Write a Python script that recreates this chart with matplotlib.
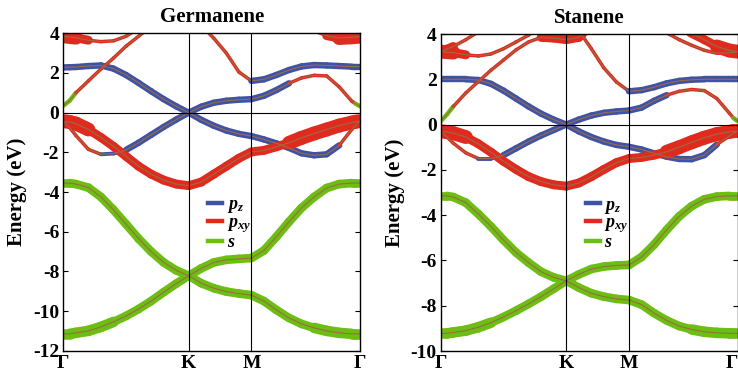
import numpy as np
import matplotlib
matplotlib.use("Agg")
import matplotlib.pyplot as plt
from matplotlib.collections import LineCollection
from matplotlib.lines import Line2D

plt.rcParams["font.family"] = "Liberation Serif"
plt.rcParams["font.weight"] = "bold"
plt.rcParams["axes.unicode_minus"] = False
plt.rcParams["mathtext.fontset"] = "custom"
plt.rcParams["mathtext.it"] = "Liberation Serif:italic:bold"
plt.rcParams["mathtext.rm"] = "Liberation Serif:bold"

nan = np.nan

# k-path Gamma -> K -> M -> Gamma, in units of |Gamma-K|
K_PATH = [0.0, 0.05, 0.1, 0.2, 0.3, 0.4, 0.5, 0.6, 0.7, 0.8, 0.9, 1.0,
          1.1, 1.2, 1.3, 1.4, 1.5,
          1.6, 1.7, 1.8, 1.9, 2.0, 2.1, 2.2, 2.3, 2.33, 2.366]
K_TICKS = [0.0, 1.0, 1.5, 2.366]
K_LABELS = ["Γ", "K", "M", "Γ"]

# dominant orbital per point: S/G/g = s, Z/z = pz, W/X/x = pxy (upper case = larger weight)
# ---- Germanene ----
GE_S1 = [-11.15, -11.15, -11.1, -11.0, -10.8, -10.55, -10.25, -9.9, -9.5, -9.05, -8.62, -8.22,
         -8.6, -8.85, -9.02, -9.12, -9.2,
         -9.5, -9.95, -10.35, -10.65, -10.85, -11.0, -11.1, -11.15, -11.15, -11.15]
GE_S1_ORB = "GGGGG" + "S" * 16 + "GGGGGG"
GE_S2 = [-3.55, -3.55, -3.6, -3.78, -4.25, -4.9, -5.62, -6.35, -7.0, -7.55, -7.95, -8.22,
         -7.85, -7.55, -7.42, -7.37, -7.33,
         -6.95, -6.25, -5.5, -4.8, -4.25, -3.8, -3.6, -3.55, -3.55, -3.55]
GE_S2_ORB = "S" * 27
GE_P3 = [-0.43, -0.47, -0.55, -0.85, -1.25, -1.7, -2.2, -2.7, -3.1, -3.4, -3.6, -3.68,
         -3.5, -3.1, -2.7, -2.3, -1.98,
         -1.9, -1.72, -1.52, -1.27, -1.05, -0.85, -0.65, -0.5, -0.46, -0.43]
GE_P3_ORB = "WWW" + "X" * 16 + "W" * 8
GE_B4 = [-0.43, -0.75, -1.15, -1.85, -2.1, -2.06, -1.88, -1.52, -1.12, -0.72, -0.35, 0.0,
         -0.36, -0.66, -0.9, -1.07, -1.18,
         -1.35, -1.55, -1.78, -2.05, -2.15, -2.1, -1.65, -0.85, -0.65, -0.43]
GE_B4_ORB = "xxxx" + "zz" + "Z" * 17 + "xxxx"
GE_B5 = [2.28, 2.29, 2.3, 2.35, 2.38, 2.22, 1.9, 1.5, 1.08, 0.68, 0.32, 0.0,
         0.3, 0.5, 0.6, 0.65, 0.68,
         0.85, 1.14, 1.48, 1.75, 1.88, 1.85, 1.3, 0.58, 0.45, 0.32]
GE_B5_ORB = "Z" * 19 + "x" * 6 + "gg"
GE_B6 = [0.35, 0.6, 1.0, 1.6, 2.2, 2.75, 3.35, 3.85, 4.35, nan, nan, nan,
         4.4, 3.75, 3.0, 2.05, 1.6,
         1.68, 1.9, 2.15, 2.33, 2.4, 2.38, 2.35, 2.32, 2.32, 2.32]
GE_B6_ORB = "gg" + "x" * 14 + "Z" * 11
GE_T1_K = [0.0, 0.1, 0.2, 0.3, 0.4, 0.5, 0.55]
GE_T1 = [3.85, 3.78, 3.65, 3.58, 3.62, 3.85, 4.05]
GE_T1_ORB = "WXxxxxx"
GE_T2_K = [2.03, 2.1, 2.2, 2.3, 2.366]
GE_T2 = [4.05, 3.88, 3.76, 3.8, 3.83]
GE_T2_ORB = "xXWWW"

# ---- Stanene ----
SN_S1 = [-9.22, -9.22, -9.18, -9.1, -8.95, -8.75, -8.5, -8.22, -7.92, -7.6, -7.25, -6.9,
         -7.2, -7.45, -7.6, -7.7, -7.75,
         -7.95, -8.33, -8.65, -8.9, -9.05, -9.15, -9.2, -9.22, -9.22, -9.22]
SN_S1_ORB = "GGGGG" + "S" * 16 + "GGGGGG"
SN_S2 = [-3.15, -3.15, -3.2, -3.45, -3.95, -4.5, -5.1, -5.65, -6.1, -6.5, -6.75, -6.9,
         -6.62, -6.38, -6.27, -6.22, -6.2,
         -5.85, -5.3, -4.65, -4.05, -3.6, -3.3, -3.18, -3.15, -3.15, -3.15]
SN_S2_ORB = "S" * 27
SN_P3 = [-0.3, -0.33, -0.38, -0.55, -0.85, -1.22, -1.62, -1.98, -2.3, -2.52, -2.66, -2.72,
         -2.58, -2.3, -1.98, -1.68, -1.5,
         -1.45, -1.35, -1.2, -1.0, -0.78, -0.58, -0.42, -0.32, -0.3, -0.3]
SN_P3_ORB = "WWW" + "X" * 16 + "W" * 8
SN_B4 = [-0.3, -0.55, -0.82, -1.25, -1.5, -1.5, -1.35, -1.05, -0.75, -0.48, -0.24, 0.0,
         -0.3, -0.55, -0.75, -0.9, -0.98,
         -1.1, -1.27, -1.42, -1.52, -1.53, -1.35, -0.88, -0.5, -0.38, -0.3]
SN_B4_ORB = "xxxx" + "zz" + "Z" * 17 + "xxxx"
SN_B5 = [2.0, 2.0, 2.0, 2.0, 1.97, 1.8, 1.5, 1.15, 0.8, 0.48, 0.22, 0.0,
         0.22, 0.4, 0.52, 0.58, 0.62,
         0.75, 1.05, 1.3, 1.47, 1.55, 1.5, 1.15, 0.5, 0.3, 0.15]
SN_B5_ORB = "Z" * 19 + "x" * 6 + "gg"
SN_B6 = [0.15, 0.45, 0.8, 1.4, 1.9, 2.4, 2.85, 3.3, 3.65, 3.85, 3.82, 3.75,
         3.85, 4.4, nan, nan, nan,
         nan, nan, nan, nan, nan, nan, nan, nan, nan, nan]
SN_B6_ORB = "gg" + "x" * 7 + "X" * 5 + "x" * 13
SN_B7 = [nan, nan, nan, nan, nan, nan, nan, nan, nan, nan, nan, nan,
         4.15, 3.35, 2.5, 1.88, 1.47,
         1.52, 1.65, 1.82, 1.93, 1.98, 2.0, 2.0, 2.0, 2.0, 2.0]
SN_B7_ORB = "x" * 16 + "Z" * 11
SN_T1_K = [0.0, 0.1, 0.2, 0.3, 0.4, 0.5, 0.6, 0.7, 0.72]
SN_T1 = [3.22, 3.18, 3.08, 3.03, 3.12, 3.35, 3.65, 3.95, 4.05]
SN_T1_ORB = "WXxxxxxxx"
SN_T2_K = [0.0, 0.1, 0.2, 0.3]
SN_T2 = [3.22, 3.45, 3.75, 4.1]
SN_T2_ORB = "Xxxx"
SN_T3_K = [1.8, 1.9, 2.0, 2.1, 2.2, 2.3, 2.366]
SN_T3 = [4.05, 3.75, 3.5, 3.28, 3.15, 3.17, 3.22]
SN_T3_ORB = "xxxxxxx"
SN_T4_K = [1.99, 2.1, 2.2, 2.3, 2.366]
SN_T4 = [4.05, 3.75, 3.45, 3.27, 3.22]
SN_T4_ORB = "XXWWW"

BLUE = "#3f52a6"
RED = "#e02a1d"
GREEN = "#6dbe12"
CENTER = "#9a6c44"

ORB_STYLE = {
    "S": (GREEN, 6.2), "G": (GREEN, 7.6), "g": (GREEN, 3.2),
    "Z": (BLUE, 4.6), "z": (BLUE, 2.8),
    "W": (RED, 10.0), "X": (RED, 6.4), "x": (RED, 2.5),
}


def draw_fat_band(ax, k, e, orb):
    k = np.asarray(k, float)
    e = np.asarray(e, float)
    segs, cols, lws = [], [], []
    for i in range(len(k) - 1):
        if np.isnan(e[i]) or np.isnan(e[i + 1]):
            continue
        segs.append([(k[i], e[i]), (k[i + 1], e[i + 1])])
        c, w = ORB_STYLE[orb[i]]
        cols.append(c)
        lws.append(w)
    lc = LineCollection(segs, colors=cols, linewidths=lws,
                        capstyle="round", joinstyle="round", zorder=2)
    ax.add_collection(lc)
    ax.plot(k, e, color=CENTER, lw=0.8, zorder=3)


def draw_panel(ax, bands, title, ymin, ymax):
    for k, e, orb in bands:
        draw_fat_band(ax, k, e, orb)

    ax.axhline(0, color="k", lw=0.8, zorder=4)
    for x in K_TICKS[1:3]:
        ax.axvline(x, color="k", lw=0.8, zorder=4)

    ax.set_xlim(0, K_PATH[-1])
    ax.set_ylim(ymin, ymax)
    ax.set_xticks(K_TICKS)
    ax.set_xticklabels(K_LABELS)
    ax.set_yticks(np.arange(ymin, ymax + 1, 2))
    ax.tick_params(axis="y", direction="in", left=True, right=True, length=3.5,
                   width=0.8, labelsize=14, pad=3)
    ax.tick_params(axis="x", length=0, labelsize=14, pad=3)
    for sp in ax.spines.values():
        sp.set_linewidth(1.0)
        sp.set_zorder(5)
    ax.set_title(title, fontsize=15, fontweight="bold", pad=8)
    ax.set_ylabel("Energy (eV)", fontsize=15, fontweight="bold", labelpad=4)

    handles = [Line2D([], [], color=BLUE, lw=3.2),
               Line2D([], [], color=RED, lw=3.2),
               Line2D([], [], color=GREEN, lw=3.2)]
    ax.legend(handles, ["$p_z$", "$p_{xy}$", "$s$"], loc="upper left",
              bbox_to_anchor=(0.465, 0.51), frameon=False, fontsize=13,
              handlelength=0.75, handletextpad=0.25, labelspacing=-0.05,
              borderaxespad=0.0)


fig = plt.figure(figsize=(7.38, 3.75), dpi=100)
ax1 = fig.add_axes([0.0858, 0.0648, 0.402, 0.8464])
ax2 = fig.add_axes([0.5972, 0.064, 0.4024, 0.8453])

ge_bands = [
    (K_PATH, GE_S1, GE_S1_ORB), (K_PATH, GE_S2, GE_S2_ORB),
    (K_PATH, GE_B5, GE_B5_ORB), (K_PATH, GE_B4, GE_B4_ORB),
    (K_PATH, GE_B6, GE_B6_ORB), (K_PATH, GE_P3, GE_P3_ORB),
    (GE_T1_K, GE_T1, GE_T1_ORB), (GE_T2_K, GE_T2, GE_T2_ORB),
]
sn_bands = [
    (K_PATH, SN_S1, SN_S1_ORB), (K_PATH, SN_S2, SN_S2_ORB),
    (K_PATH, SN_B5, SN_B5_ORB), (K_PATH, SN_B4, SN_B4_ORB),
    (K_PATH, SN_B6, SN_B6_ORB), (K_PATH, SN_B7, SN_B7_ORB),
    (K_PATH, SN_P3, SN_P3_ORB),
    (SN_T1_K, SN_T1, SN_T1_ORB), (SN_T2_K, SN_T2, SN_T2_ORB),
    (SN_T3_K, SN_T3, SN_T3_ORB), (SN_T4_K, SN_T4, SN_T4_ORB),
]

draw_panel(ax1, ge_bands, "Germanene", -12, 4)
draw_panel(ax2, sn_bands, "Stanene", -10, 4)

# keep the last Gamma label inside the figure edge
ax2.get_xticklabels()[-1].set_horizontalalignment("right")

fig.savefig("out.png", dpi=100)
